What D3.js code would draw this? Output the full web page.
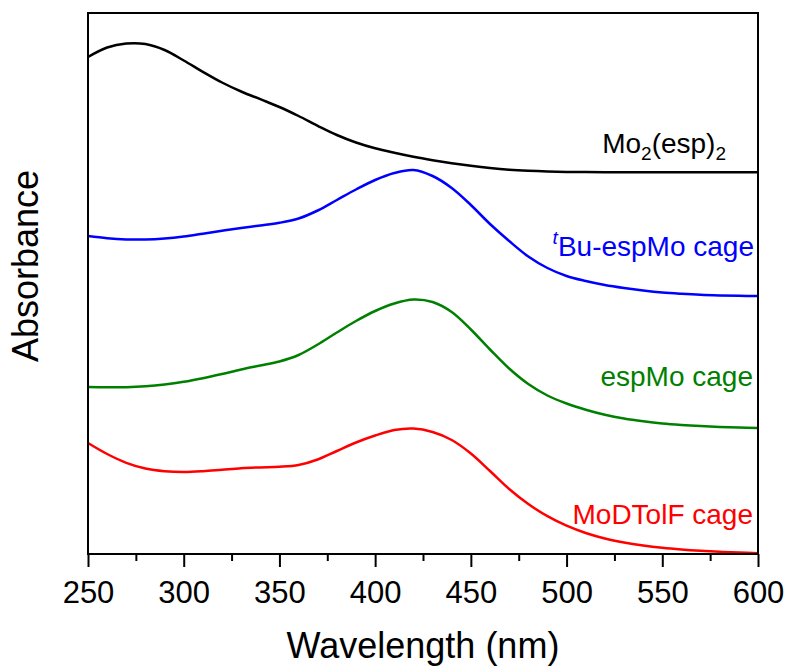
<!DOCTYPE html>
<html>
<head>
<meta charset="utf-8">
<script src="https://cdn.jsdelivr.net/npm/d3@7"></script>
<style>
  html, body { margin: 0; padding: 0; background: #fff; }
  svg { display: block; font-family: Arial, "Liberation Sans", Helvetica, sans-serif; }
</style>
</head>
<body>
<svg id="chart" width="790" height="669"></svg>
<script>
// Wavelength grid (nm) shared by all spectra
const wavelengths = d3.range(250, 601, 10);

// Stacked UV-vis absorbance spectra (arbitrary units, vertically offset)
const mo2esp2 = [4.970, 5.065, 5.105, 5.100, 5.040, 4.935, 4.822, 4.715, 4.625, 4.548,
                 4.470, 4.380, 4.282, 4.190, 4.115, 4.057, 4.012, 3.972, 3.938, 3.908,
                 3.882, 3.860, 3.843, 3.832, 3.825, 3.821, 3.819, 3.818, 3.818, 3.818,
                 3.818, 3.818, 3.818, 3.818, 3.818, 3.818];
const tBuEspMoCage = [3.180, 3.158, 3.146, 3.145, 3.155, 3.175, 3.203, 3.232, 3.260, 3.285,
                      3.312, 3.355, 3.435, 3.540, 3.645, 3.740, 3.810, 3.840, 3.780, 3.660,
                      3.490, 3.300, 3.130, 2.975, 2.860, 2.780, 2.730, 2.690, 2.660, 2.635,
                      2.615, 2.602, 2.592, 2.586, 2.582, 2.580];
const espMoCage = [1.670, 1.667, 1.668, 1.677, 1.695, 1.722, 1.758, 1.800, 1.845, 1.885,
                   1.925, 1.990, 2.095, 2.215, 2.330, 2.430, 2.505, 2.545, 2.520, 2.420,
                   2.245, 2.045, 1.855, 1.700, 1.585, 1.505, 1.443, 1.393, 1.355, 1.327,
                   1.305, 1.290, 1.279, 1.271, 1.265, 1.260];
const moDTolFCage = [1.110, 1.000, 0.912, 0.855, 0.828, 0.820, 0.828, 0.843, 0.858, 0.866,
                     0.872, 0.890, 0.945, 1.030, 1.115, 1.185, 1.240, 1.255, 1.220, 1.140,
                     1.005, 0.830, 0.650, 0.500, 0.378, 0.283, 0.210, 0.155, 0.115, 0.085,
                     0.062, 0.045, 0.032, 0.022, 0.014, 0.008];

// Axis ticks
const majorTicks = [250, 300, 350, 400, 450, 500, 550, 600];
const minorTicks = [275, 325, 375, 425, 475, 525, 575];

const series = [
  { name: "Mo2(esp)2", values: mo2esp2, color: "#000000" },
  { name: "tBu-espMo cage", values: tBuEspMoCage, color: "#0000ff" },
  { name: "espMo cage", values: espMoCage, color: "#008000" },
  { name: "MoDTolF cage", values: moDTolFCage, color: "#ff0000" }
];

const svg = d3.select("#chart");
const plot = { left: 88, right: 758, top: 13, bottom: 554 };

const x = d3.scaleLinear().domain([250, 600]).range([plot.left, plot.right]);
const y = d3.scaleLinear().domain([0, 5.41]).range([plot.bottom, plot.top]);

// Spectra
const line = d3.line()
  .x(d => x(d[0]))
  .y(d => y(d[1]))
  .curve(d3.curveCatmullRom.alpha(0.5));

svg.append("g")
  .selectAll("path")
  .data(series)
  .join("path")
  .attr("d", s => line(wavelengths.map((w, i) => [w, s.values[i]])))
  .attr("fill", "none")
  .attr("stroke", s => s.color)
  .attr("stroke-width", 2.5)
  .attr("stroke-linejoin", "round");

// Frame
svg.append("rect")
  .attr("x", plot.left)
  .attr("y", plot.top)
  .attr("width", plot.right - plot.left)
  .attr("height", plot.bottom - plot.top)
  .attr("fill", "none")
  .attr("stroke", "#000")
  .attr("stroke-width", 2);

// Bottom axis: major ticks with labels
const xAxis = svg.append("g")
  .attr("transform", `translate(0,${plot.bottom})`)
  .call(d3.axisBottom(x).tickValues(majorTicks).tickSize(13).tickFormat(d3.format("d")));
xAxis.select(".domain").remove();
xAxis.selectAll(".tick line").attr("stroke", "#000").attr("stroke-width", 2);
xAxis.selectAll(".tick text")
  .attr("y", 49)
  .attr("dy", 0)
  .attr("fill", "#000")
  .style("font-size", "31px")
  .style("font-family", "Arial, 'Liberation Sans', sans-serif");

// Bottom axis: minor ticks
const xMinor = svg.append("g")
  .attr("transform", `translate(0,${plot.bottom})`)
  .call(d3.axisBottom(x).tickValues(minorTicks).tickSize(7).tickFormat(""));
xMinor.select(".domain").remove();
xMinor.selectAll(".tick line").attr("stroke", "#000").attr("stroke-width", 2);

// Axis titles
svg.append("text")
  .attr("x", (plot.left + plot.right) / 2)
  .attr("y", 658)
  .attr("text-anchor", "middle")
  .style("font-size", "36px")
  .text("Wavelength (nm)");

svg.append("text")
  .attr("transform", "translate(38,266) rotate(-90)")
  .attr("text-anchor", "middle")
  .style("font-size", "36px")
  .text("Absorbance");

// Series labels
const lab1 = svg.append("text")
  .attr("x", 726).attr("y", 153)
  .attr("text-anchor", "end")
  .attr("fill", series[0].color)
  .style("font-size", "28px");
lab1.append("tspan").text("Mo");
lab1.append("tspan").attr("dy", 7).style("font-size", "19px").text("2");
lab1.append("tspan").attr("dy", -7).text("(esp)");
lab1.append("tspan").attr("dy", 7).style("font-size", "19px").text("2");

const lab2 = svg.append("text")
  .attr("x", 754).attr("y", 256)
  .attr("text-anchor", "end")
  .attr("fill", series[1].color)
  .style("font-size", "28px");
lab2.append("tspan").attr("dy", -12).style("font-size", "19px").style("font-style", "italic").text("t");
lab2.append("tspan").attr("dy", 12).text("Bu-espMo cage");

svg.append("text")
  .attr("x", 753).attr("y", 386)
  .attr("text-anchor", "end")
  .attr("fill", series[2].color)
  .style("font-size", "28px")
  .text("espMo cage");

svg.append("text")
  .attr("x", 753).attr("y", 524)
  .attr("text-anchor", "end")
  .attr("fill", series[3].color)
  .style("font-size", "28px")
  .text("MoDTolF cage");
</script>
</body>
</html>
